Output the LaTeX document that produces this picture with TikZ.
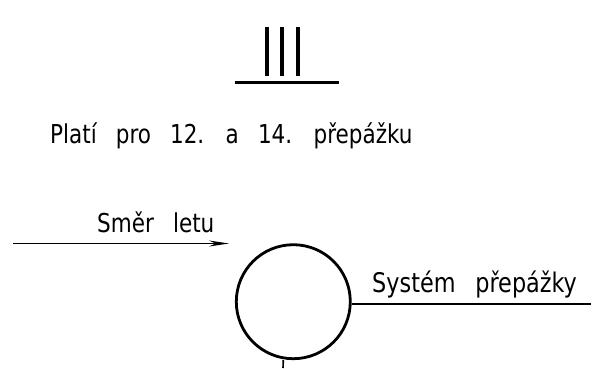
\documentclass[tikz,border=0pt]{standalone}
\usepackage{fontspec}
\setmainfont{DejaVu Sans Condensed}[WordSpace=2.8,FakeStretch=0.92]
\usetikzlibrary{arrows.meta}
\begin{document}
\begin{tikzpicture}[x=1pt,y=-1pt,
  lbl/.style={inner sep=0pt,font=\fontsize{26}{30}\selectfont},
  bar/.style={line width=4pt},
  thin/.style={line width=1.6pt}]
\useasboundingbox (0,0) rectangle (608,368);
% III
\coordinate (b1t) at (266.5,27); \coordinate (b1b) at (266.5,76);
\coordinate (b2t) at (282.3,27); \coordinate (b2b) at (282.3,76);
\coordinate (b3t) at (298,27);   \coordinate (b3b) at (298,76);
\draw[bar] (b1t) -- (b1b);
\draw[bar] (b2t) -- (b2b);
\draw[bar] (b3t) -- (b3b);
\coordinate (ul) at (235,82); \coordinate (ur) at (339,82);
\draw[line width=3pt] (ul) -- (ur);
% title
\node[lbl,anchor=base west] (title) at (50,143) {Platí pro 12. a 14. přepážku};
% direction
\node[lbl,anchor=base west] (smer) at (97,232) {Směr letu};
\coordinate (a0) at (13,243.5); \coordinate (a1) at (229,243.5);
\draw[thin,-{Stealth[length=20pt,width=6pt]}] (a0) -- (a1);
% circle
\node[circle,draw,line width=2.8pt,minimum size=114pt,inner sep=0pt] (c) at (293.3,301.7) {};
\coordinate (tick) at (283,368);
\draw[line width=1.6pt] (c.south) ++(-10,0) -- (tick);
\coordinate (send) at (591,304);
\draw[thin] (c.east |- send) -- (send);
\node[lbl,anchor=base west,font=\fontsize{27}{30}\selectfont] (sys) at (372,292) {Systém přepážky};
\end{tikzpicture}
\end{document}
